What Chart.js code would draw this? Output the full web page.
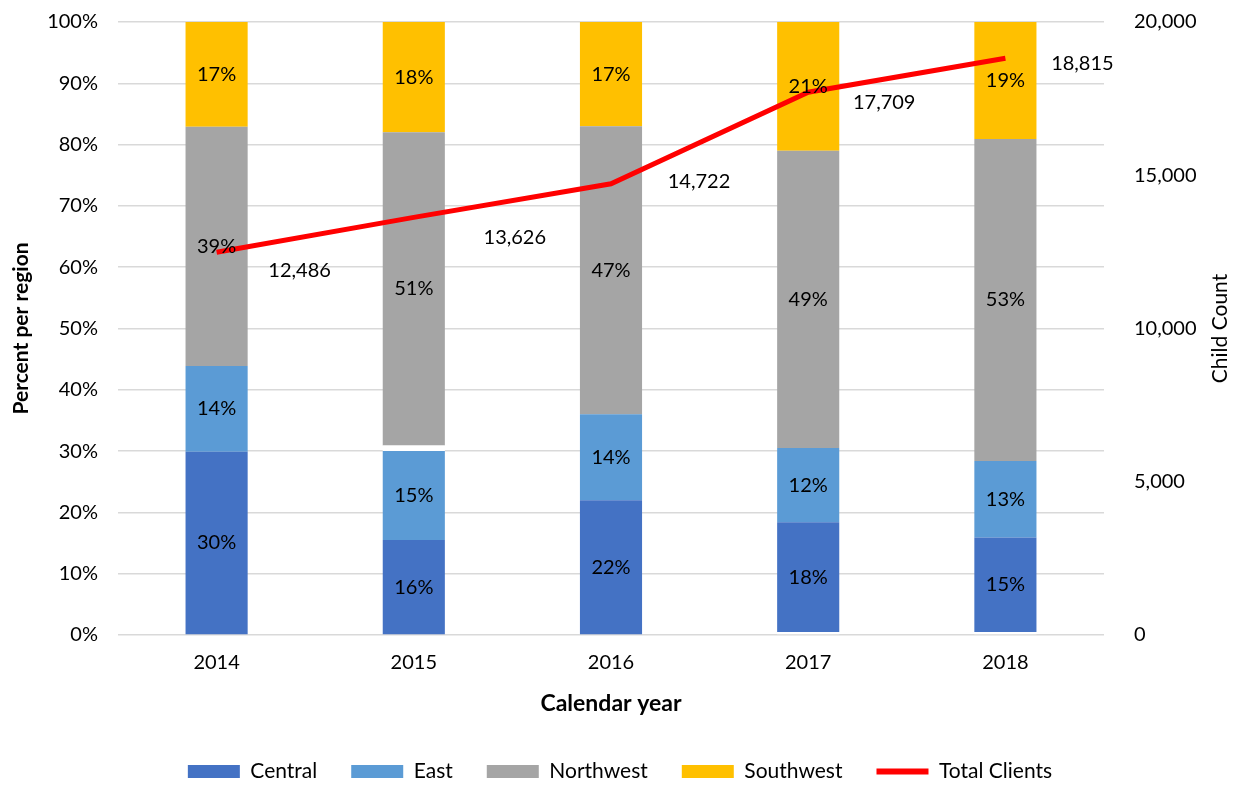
<!DOCTYPE html>
<html lang="en">
<head>
    <meta charset="UTF-8">
    <title>Clients per region</title>
    <script src="https://cdn.jsdelivr.net/npm/chart.js"></script>
    <style>
        body { margin: 0; background: #fff; }
        #wrap { width: 1240px; height: 785px; }
    </style>
</head>
<body>
    <div id="wrap"><canvas id="chart" width="1240" height="785"></canvas></div>
    <script>
        // Data
        const years = ["2014", "2015", "2016", "2017", "2018"];
        const centralPct = [29.9, 15.5, 22, 17.9, 15.4];
        const eastPct = [14, 14.5, 14, 12.1, 12.5];
        const northwestPct = [39, 51.1, 47, 48.5, 52.5];
        const southwestPct = [17.1, 18, 17, 21, 19.1];
        // small unlabeled white slivers visible in the bars
        const baseGapPct = [0, 0, 0, 0.5, 0.5];
        const midGapPct = [0, 0.9, 0, 0, 0];
        const totalClients = [12486, 13626, 14722, 17709, 18815];

        const FONT = "Lato, 'Open Sans', sans-serif";

        // % labels inside bars, count labels beside the line, right axis title
        const labelPlugin = {
            id: "valueLabels",
            afterLayout(chart, args, opts) {
                // nudge the legend a little lower
                const lg = chart.legend;
                lg.top += opts.legendShift;
                lg.bottom += opts.legendShift;
            },
            afterDatasetsDraw(chart, args, opts) {
                const ctx = chart.ctx;
                ctx.save();
                ctx.fillStyle = "#000";
                ctx.textAlign = "center";
                ctx.textBaseline = "middle";
                ctx.font = "20px " + FONT;
                chart.data.datasets.forEach((ds, i) => {
                    const meta = chart.getDatasetMeta(i);
                    if (ds.type === "line") {
                        meta.data.forEach((pt, j) => {
                            const off = opts.lineOffsets[j];
                            ctx.fillText(ds.data[j].toLocaleString("en-US"), pt.x + off[0], pt.y + off[1]);
                        });
                    } else if (!ds.isGap) {
                        meta.data.forEach((bar, j) => {
                            ctx.fillText(Math.round(ds.data[j]) + "%", bar.x, (bar.y + bar.base) / 2);
                        });
                    }
                });
                // right axis title reads bottom-to-top
                const area = chart.chartArea;
                ctx.translate(opts.rightTitleX, (area.top + area.bottom) / 2);
                ctx.rotate(-Math.PI / 2);
                ctx.font = "21px " + FONT;
                ctx.fillText("Child Count", 0, 0);
                ctx.restore();
            }
        };

        const barCommon = { barPercentage: 0.315, categoryPercentage: 1, yAxisID: "y", order: 1 };

        new Chart(document.getElementById("chart"), {
            type: "bar",
            data: {
                labels: years,
                datasets: [
                    { ...barCommon, label: "gap0", data: baseGapPct, backgroundColor: "#ffffff", isGap: true },
                    { ...barCommon, label: "Central", data: centralPct, backgroundColor: "#4472C4" },
                    { ...barCommon, label: "East", data: eastPct, backgroundColor: "#5B9BD5" },
                    { ...barCommon, label: "gap1", data: midGapPct, backgroundColor: "#ffffff", isGap: true },
                    { ...barCommon, label: "Northwest", data: northwestPct, backgroundColor: "#A5A5A5" },
                    { ...barCommon, label: "Southwest", data: southwestPct, backgroundColor: "#FFC000" },
                    {
                        type: "line", label: "Total Clients", data: totalClients, yAxisID: "y1",
                        borderColor: "#FF0000", backgroundColor: "#FF0000", borderWidth: 5,
                        pointRadius: 0, tension: 0, order: 0
                    }
                ]
            },
            options: {
                responsive: false,
                animation: false,
                layout: { padding: { top: 22, bottom: 0 } },
                scales: {
                    x: {
                        stacked: true,
                        grid: { display: false },
                        border: { display: false },
                        ticks: { color: "#000", font: { family: FONT, size: 20 }, padding: 8 },
                        title: { display: true, text: "Calendar year", color: "#000", font: { family: FONT, size: 23, weight: "bold" }, padding: { top: 0, bottom: 3 } },
                        afterFit(s) { s.height = 85; s.paddingLeft = 0; s.paddingRight = 0; }
                    },
                    y: {
                        stacked: true, min: 0, max: 100,
                        position: "left",
                        grid: { color: "#d9d9d9", lineWidth: 1.5, drawTicks: false },
                        border: { display: false },
                        ticks: { stepSize: 10, color: "#000", padding: 20, font: { family: FONT, size: 20 }, callback: v => v + "%" },
                        title: { display: true, text: "Percent per region", color: "#000", font: { family: FONT, size: 21, weight: "bold" }, padding: { top: 9, bottom: 9 } },
                        afterFit(s) { s.width = 118; s.paddingTop = 0; s.paddingBottom = 0; }
                    },
                    y1: {
                        min: 0, max: 20000,
                        position: "right",
                        grid: { display: false },
                        border: { display: false },
                        ticks: { stepSize: 5000, color: "#000", padding: 22, font: { family: FONT, size: 20 }, callback: v => v.toLocaleString("en-US") },
                        afterFit(s) { s.width = 136; s.paddingTop = 0; s.paddingBottom = 0; }
                    }
                },
                plugins: {
                    legend: {
                        position: "bottom",
                        labels: {
                            color: "#000",
                            font: { family: FONT, size: 21 },
                            usePointStyle: true,
                            pointStyleWidth: 52,
                            boxHeight: 13,
                            padding: 34,
                            filter: item => !item.text.startsWith("gap"),
                            sort: (a, b) => a.datasetIndex - b.datasetIndex,
                            generateLabels(chart) {
                                const items = Chart.defaults.plugins.legend.labels.generateLabels(chart);
                                items.forEach(it => {
                                    const ds = chart.data.datasets[it.datasetIndex];
                                    if (ds.type === "line") {
                                        it.pointStyle = "line";
                                        it.strokeStyle = "#FF0000";
                                        it.lineWidth = 6;
                                    } else {
                                        it.pointStyle = "rect";
                                        it.lineWidth = 0;
                                    }
                                });
                                return items;
                            }
                        }
                    },
                    tooltip: { enabled: false },
                    valueLabels: {
                        lineOffsets: [[83, 18], [101, 20], [88, -2], [76, 10], [77, 5]],
                        rightTitleX: 1220,
                        legendShift: 7
                    }
                }
            },
            plugins: [labelPlugin]
        });
    </script>
</body>
</html>
